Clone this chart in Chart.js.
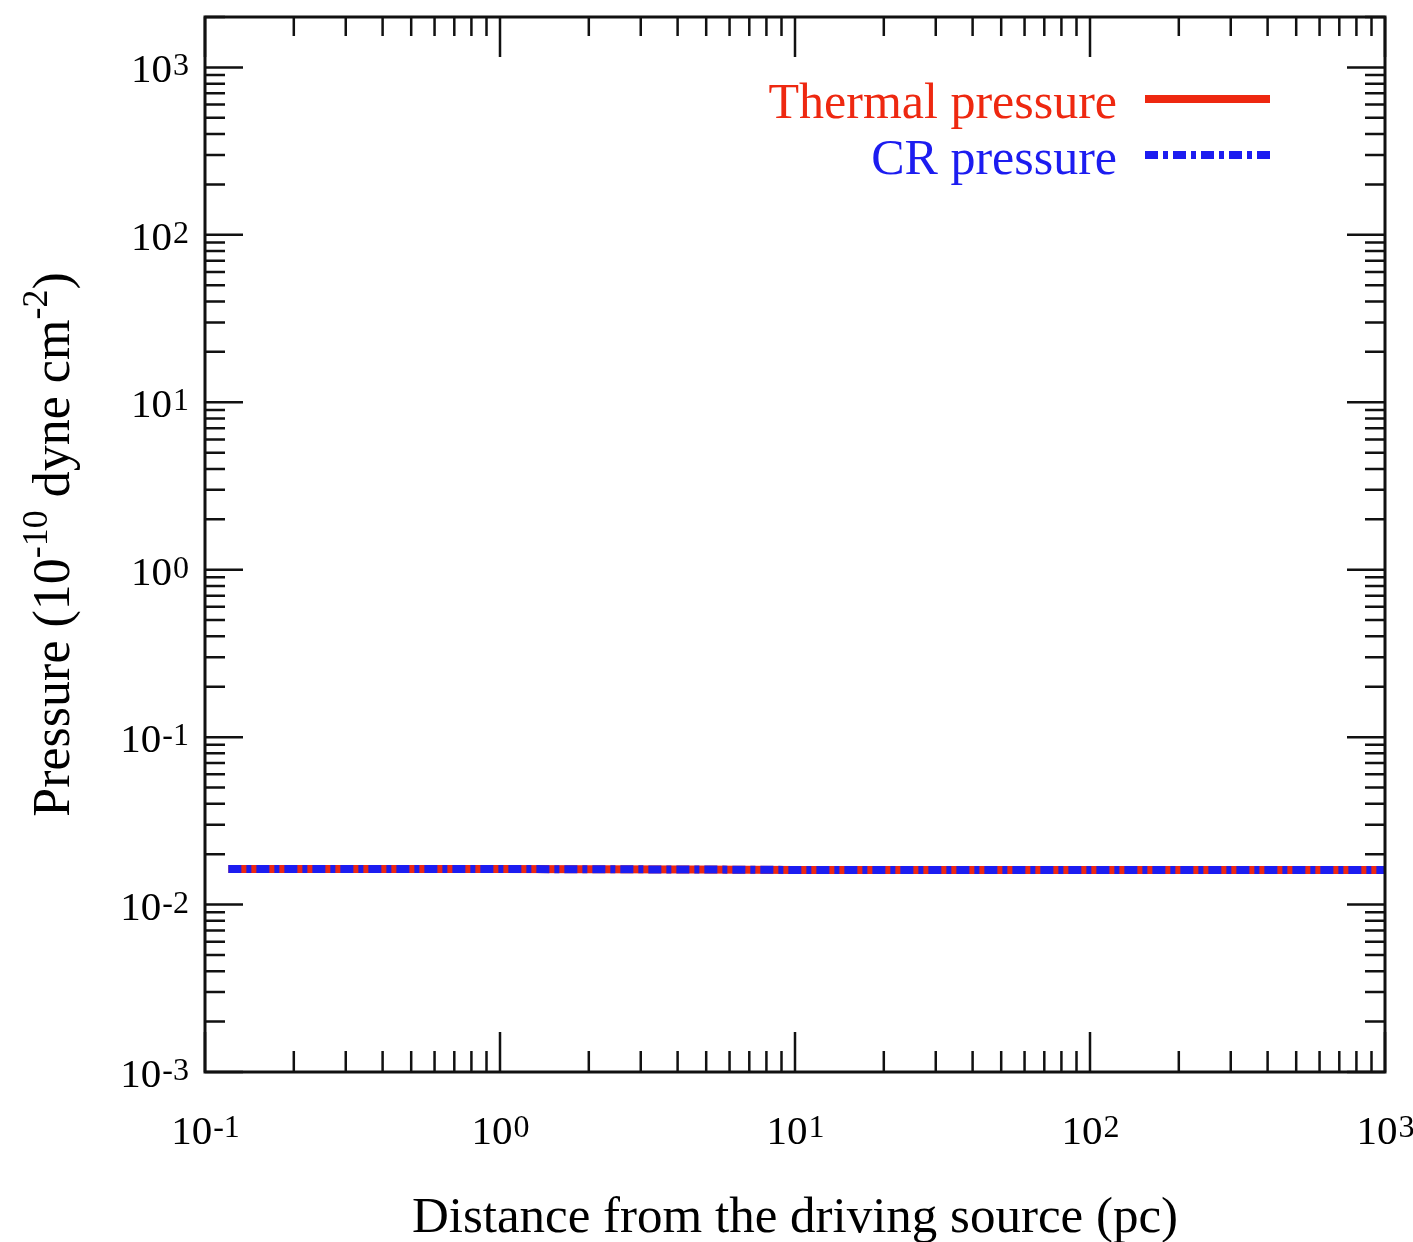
<!DOCTYPE html>
<html>
<head>
<meta charset="utf-8">
<script src="https://cdn.jsdelivr.net/npm/chart.js@4/dist/chart.umd.min.js"></script>
<style>
  html, body { margin: 0; background: #fff; }
  canvas { display: block; }
</style>
</head>
<body>
<canvas id="chart" width="1413" height="1242"></canvas>
<script>
// values
const distance        = [0.12, 0.5, 1, 4.5, 10, 100, 1000];
const thermalPressure = [0.0163, 0.0163, 0.0163, 0.0162, 0.0161, 0.0161, 0.0161];
const crPressure      = [0.0163, 0.0163, 0.0163, 0.0162, 0.0161, 0.0161, 0.0161];

const xDecades = [0.1, 1, 10, 100, 1000];
const xExps    = ['-1', '0', '1', '2', '3'];
const yDecades = [0.001, 0.01, 0.1, 1, 10, 100, 1000];
const yExps    = ['-3', '-2', '-1', '0', '1', '2', '3'];

const RED = 'rgb(238,40,16)';
const BLUE = 'rgb(28,28,240)';
const SERIF = '"Liberation Serif", "DejaVu Serif", serif';

// base "10" with a raised exponent
function powerLabel(ctx, exp, x, y, align) {
  ctx.font = '41px ' + SERIF;
  const wb = ctx.measureText('10').width;
  ctx.font = '32px ' + SERIF;
  const we = ctx.measureText(exp).width;
  let x0 = x;
  if (align === 'center') x0 = x - (wb + we) / 2;
  if (align === 'right') x0 = x - (wb + we);
  ctx.textAlign = 'left';
  ctx.textBaseline = 'alphabetic';
  ctx.font = '41px ' + SERIF;
  ctx.fillText('10', x0, y);
  ctx.font = '32px ' + SERIF;
  ctx.fillText(exp, x0 + wb + 1, y - 7);
}

const framePlugin = {
  id: 'frame',
  afterDraw(chart) {
    const ctx = chart.ctx;
    const a = chart.chartArea;
    const xs = chart.scales.x, ys = chart.scales.y;
    ctx.save();
    ctx.strokeStyle = '#111';
    ctx.fillStyle = '#111';

    // ticks, inside, all four sides
    ctx.lineWidth = 2.5;
    ctx.beginPath();
    xDecades.forEach((d, i) => {
      const px = xs.getPixelForValue(d);
      ctx.moveTo(px, a.bottom); ctx.lineTo(px, a.bottom - 40);
      ctx.moveTo(px, a.top); ctx.lineTo(px, a.top + 40);
      if (i < xDecades.length - 1) {
        for (let m = 2; m <= 9; m++) {
          const p = xs.getPixelForValue(d * m);
          ctx.moveTo(p, a.bottom); ctx.lineTo(p, a.bottom - 21);
          ctx.moveTo(p, a.top); ctx.lineTo(p, a.top + 19);
        }
      }
    });
    yDecades.forEach((d, i) => {
      const py = ys.getPixelForValue(d);
      ctx.moveTo(a.left, py); ctx.lineTo(a.left + 38, py);
      ctx.moveTo(a.right, py); ctx.lineTo(a.right - 38, py);
      for (let m = 2; m <= 9; m++) {
        const v = d * m;
        if (v > ys.max) break;
        const p = ys.getPixelForValue(v);
        ctx.moveTo(a.left, p); ctx.lineTo(a.left + 20, p);
        ctx.moveTo(a.right, p); ctx.lineTo(a.right - 20, p);
      }
    });
    ctx.stroke();

    ctx.lineWidth = 3;
    ctx.strokeRect(a.left, a.top, a.right - a.left, a.bottom - a.top);

    // tick labels
    ctx.fillStyle = '#000';
    xDecades.forEach((d, i) => powerLabel(ctx, xExps[i], xs.getPixelForValue(d), a.bottom + 72, 'center'));
    yDecades.forEach((d, i) => powerLabel(ctx, yExps[i], a.left - 17, ys.getPixelForValue(d) + 15, 'right'));

    // x title
    ctx.font = '51px ' + SERIF;
    ctx.textAlign = 'center';
    ctx.fillText('Distance from the driving source (pc)', (a.left + a.right) / 2, 1232);

    // y title with superscripts, rotated
    const parts = [
      ['Pressure (10', 52, 0], ['-10', 36, 22], [' dyne cm', 52, 0], ['-2', 36, 22], [')', 52, 0]
    ];
    let total = 0;
    parts.forEach(p => { ctx.font = p[1] + 'px ' + SERIF; p.push(ctx.measureText(p[0]).width); total += p[3]; });
    ctx.translate(69, (a.top + a.bottom) / 2);
    ctx.rotate(-Math.PI / 2);
    ctx.textAlign = 'left';
    let tx = -total / 2;
    parts.forEach(p => {
      ctx.font = p[1] + 'px ' + SERIF;
      ctx.fillText(p[0], tx, -p[2]);
      tx += p[3];
    });
    ctx.restore();

    // legend: coloured text right aligned, sample line on the right
    ctx.save();
    const rows = [
      { ds: chart.data.datasets[0], y: 99 },
      { ds: chart.data.datasets[1], y: 155 }
    ];
    rows.forEach(r => {
      ctx.font = '50px ' + SERIF;
      ctx.fillStyle = r.ds.borderColor;
      ctx.textAlign = 'right';
      ctx.textBaseline = 'alphabetic';
      ctx.fillText(r.ds.label, 1117, r.y + 19);
      ctx.strokeStyle = r.ds.borderColor;
      ctx.lineWidth = r.ds.borderWidth;
      ctx.setLineDash(r.ds.borderDash || []);
      ctx.beginPath();
      ctx.moveTo(1145, r.y);
      ctx.lineTo(1270, r.y);
      ctx.stroke();
    });
    ctx.restore();
  }
};

new Chart(document.getElementById('chart'), {
  type: 'line',
  data: {
    datasets: [
      {
        label: 'Thermal pressure',
        data: distance.map((d, i) => ({ x: d, y: thermalPressure[i] })),
        borderColor: RED,
        borderWidth: 8,
        pointRadius: 0,
        fill: false,
        order: 2
      },
      {
        label: 'CR pressure',
        data: distance.map((d, i) => ({ x: d, y: crPressure[i] })),
        borderColor: BLUE,
        borderWidth: 8,
        borderDash: [13, 5, 5, 5],
        pointRadius: 0,
        fill: false,
        order: 1
      }
    ]
  },
  options: {
    responsive: false,
    animation: false,
    devicePixelRatio: 1,
    layout: { padding: { left: 205, right: 28, top: 17, bottom: 170 } },
    plugins: { legend: { display: false }, tooltip: { enabled: false } },
    scales: {
      x: { type: 'logarithmic', min: 0.1, max: 1000, display: false },
      y: { type: 'logarithmic', min: 0.001, max: 2000, display: false }
    }
  },
  plugins: [framePlugin]
});
</script>
</body>
</html>
